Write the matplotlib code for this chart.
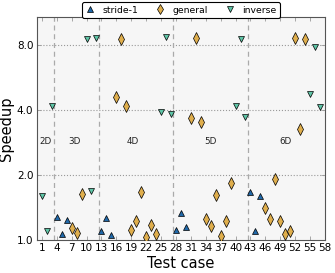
import matplotlib
matplotlib.use("Agg")
import matplotlib.pyplot as plt
from matplotlib.ticker import FixedLocator, FixedFormatter, NullLocator

# Data
stride_x = [4, 5, 6, 13, 14, 15, 28, 29, 30, 43, 44, 45]
stride_y = [1.28, 1.07, 1.24, 1.10, 1.26, 1.06, 1.115, 1.33, 1.15, 1.67, 1.10, 1.60]

general_x = [7, 8, 9, 16, 17, 18, 19, 20, 21, 22, 23, 24,
             31, 32, 33, 34, 35, 36, 37, 38, 39,
             46, 47, 48, 49, 50, 51, 52, 53, 54]
general_y = [1.14, 1.08, 1.64, 4.6, 8.56, 4.19, 1.11, 1.22, 1.67, 1.03, 1.17, 1.066,
             3.70, 8.62, 3.53, 1.245, 1.155, 1.62, 1.04, 1.22, 1.83,
             1.40, 1.245, 1.91, 1.23, 1.066, 1.10, 8.68, 3.27, 8.6]

inverse_x = [1, 2, 3, 10, 11, 12, 25, 26, 27, 40, 41, 42, 55, 56, 57]
inverse_y = [1.6, 1.1, 4.2, 8.56, 1.69, 8.65, 3.92, 8.8, 3.83, 4.2, 8.53, 3.73, 4.75, 7.86, 4.15]

region_labels = ["2D", "3D", "4D", "5D", "6D"]
region_label_x = [1.7, 7.6, 19.3, 35, 50]
region_bounds = [3.5, 12.5, 27.5, 42.5]

y_ticks = [1.0, 2.0, 4.0, 8.0]
x_ticks = list(range(1, 59, 3))

fig = plt.figure(figsize=(3.35, 2.73), dpi=100)
ax = fig.add_axes([0.110, 0.121, 0.860, 0.817])
ax.set_facecolor("#f6f6f6")

ax.set_yscale("log", base=2)
ax.set_ylim(1.0, 10.85)
ax.set_xlim(0, 58)

for yt in y_ticks[1:]:
    ax.axhline(yt, color="#999999", linestyle=":", linewidth=0.8, zorder=1)
for b in region_bounds:
    ax.axvline(b, color="#aaaaaa", linestyle=(0, (4, 3)), linewidth=0.9, zorder=1)

for lx, lab in zip(region_label_x, region_labels):
    ax.text(lx, 2.85, lab, ha="center", va="center", fontsize=6.3, color="#222222")

ms = 5.0
ax.plot(stride_x, stride_y, linestyle="none", marker="^", markersize=ms,
        markerfacecolor="#2068a8", markeredgecolor="black", markeredgewidth=0.5,
        label="stride-1", zorder=3)
ax.plot(general_x, general_y, linestyle="none", marker="d", markersize=ms + 0.7,
        markerfacecolor="#dfae4c", markeredgecolor="black", markeredgewidth=0.5,
        label="general", zorder=3)
ax.plot(inverse_x, inverse_y, linestyle="none", marker="v", markersize=ms,
        markerfacecolor="#5ec4a6", markeredgecolor="black", markeredgewidth=0.5,
        label="inverse", zorder=3)

ax.yaxis.set_major_locator(FixedLocator(y_ticks))
ax.yaxis.set_major_formatter(FixedFormatter(["%.1f" % v for v in y_ticks]))
ax.yaxis.set_minor_locator(NullLocator())
ax.set_xticks(x_ticks)
ax.set_xticklabels([str(v) for v in x_ticks])

ax.tick_params(axis="both", direction="in", labelsize=7.5, length=3, width=0.6,
               top=True, right=True, pad=2.5, colors="#999999", labelcolor="black")

for s in ax.spines.values():
    s.set_color("#555555")
    s.set_linewidth(0.8)

ax.set_xlabel("Test case", fontsize=10.5, labelpad=1.5)
ax.set_ylabel("Speedup", fontsize=10.5, labelpad=2)

leg = ax.legend(loc="center", bbox_to_anchor=(0.5, 1.031), ncol=3, fontsize=6.7,
                frameon=True, fancybox=True, handletextpad=0.8, columnspacing=1.9,
                borderpad=0.35, handlelength=1.0, borderaxespad=0, markerscale=0.85)
leg.get_frame().set_edgecolor("black")
leg.get_frame().set_linewidth(0.8)
leg.get_frame().set_facecolor("white")
leg.get_frame().set_alpha(1.0)

fig.savefig("out.png", dpi=100)
